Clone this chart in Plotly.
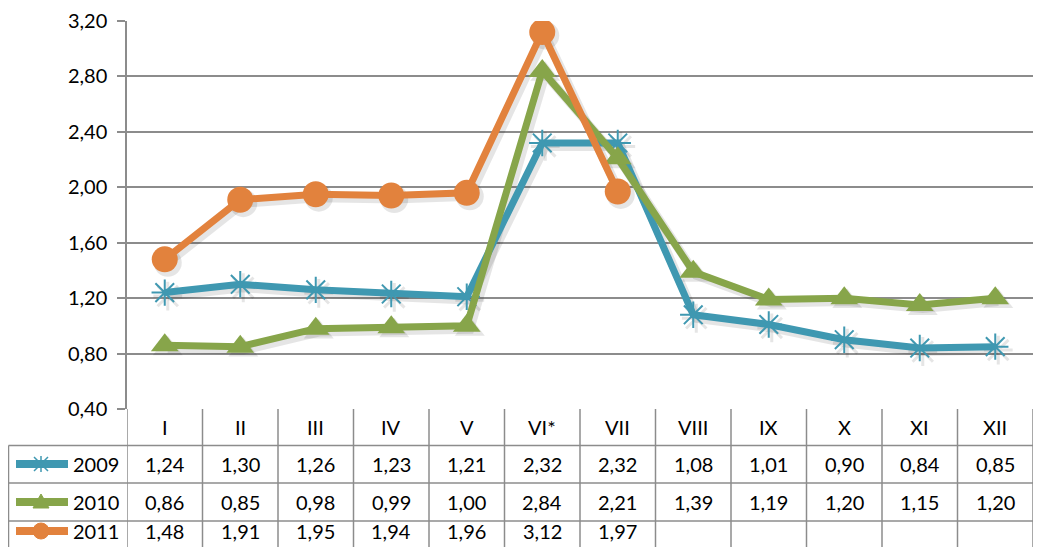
import plotly.graph_objects as go

months = ["I", "II", "III", "IV", "V", "VI*", "VII", "VIII", "IX", "X", "XI", "XII"]
years = ["2009", "2010", "2011"]
v2009 = [1.24, 1.30, 1.26, 1.23, 1.21, 2.32, 2.32, 1.08, 1.01, 0.90, 0.84, 0.85]
v2010 = [0.86, 0.85, 0.98, 0.99, 1.00, 2.84, 2.21, 1.39, 1.19, 1.20, 1.15, 1.20]
v2011 = [1.48, 1.91, 1.95, 1.94, 1.96, 3.12, 1.97, None, None, None, None, None]
yticks = [0.40, 0.80, 1.20, 1.60, 2.00, 2.40, 2.80, 3.20]

series = [v2009, v2010, v2011]
colors = ["#3F98B1", "#87A54A", "#E2823D"]
symbols = ["asterisk-open", "triangle-up", "circle"]
msizes = [22, 24, 26]

# page has an 8px body margin, so the figure is a bit smaller than the window
W, H = 1025, 539
L, R, T, B = 119, 0, 13, 138
ph = H - T - B
pw = W - L - R
FONT = "Lato, Calibri, Arial, sans-serif"
FS = 20
GRID = "#8C8C8C"

fig = go.Figure()
xs = list(range(len(months)))

# soft shadows
for vals, c, s, ms in zip(series, colors, symbols, msizes):
    fig.add_trace(go.Scatter(
        x=[x + 0.04 for x in xs], y=[None if v is None else v - 0.025 for v in vals],
        mode="lines+markers", line=dict(color="rgba(0,0,0,0.10)", width=9),
        marker=dict(symbol=s, size=ms + 2, color="rgba(0,0,0,0.10)",
                    line=dict(width=3 if s == "asterisk-open" else 0, color="rgba(0,0,0,0.10)")),
        hoverinfo="skip", showlegend=False))

for vals, c, s, ms, yr in zip(series, colors, symbols, msizes, years):
    fig.add_trace(go.Scatter(
        x=xs, y=vals, mode="lines+markers", name=yr,
        line=dict(color=c, width=7),
        marker=dict(symbol=s, size=ms, color=c,
                    line=dict(width=2 if s == "asterisk-open" else 0, color=c)),
        showlegend=False))

row_edges_px = [0, 36.5, 74, 112, 150]  # below the x axis line
row_y = [-e / ph for e in row_edges_px]
row_center_px = [55, 93, 122]
left_x = -(L - 0.5) / pw
n = len(months)

shapes = []
for k in range(1, 4):
    shapes.append(dict(type="line", xref="paper", yref="paper",
                       x0=left_x, x1=1.0, y0=row_y[k], y1=row_y[k],
                       line=dict(color=GRID, width=1.5)))
for i in range(n + 1):
    shapes.append(dict(type="line", xref="x", yref="paper",
                       x0=i - 0.5, x1=i - 0.5, y0=0, y1=row_y[4],
                       line=dict(color=GRID, width=1.5)))
shapes.append(dict(type="line", xref="paper", yref="paper",
                   x0=left_x, x1=left_x, y0=row_y[1], y1=row_y[4],
                   line=dict(color=GRID, width=1.5)))

annotations = []
hy = -17.5 / ph
for i, m in enumerate(months):
    annotations.append(dict(x=i, y=hy, xref="x", yref="paper", text=m,
                            xanchor="center", yanchor="middle",
                            showarrow=False, font=dict(size=FS, color="#000", family=FONT)))

key_x = -(L - 33) / pw
for r, (vals, yr) in enumerate(zip(series, years)):
    yc = -row_center_px[r] / ph
    for i, v in enumerate(vals):
        if v is None:
            continue
        annotations.append(dict(x=i, y=yc, xref="x", yref="paper",
                                text=f"{v:.2f}".replace(".", ","), showarrow=False,
                                xanchor="center", yanchor="middle",
                                font=dict(size=FS, color="#000", family=FONT)))
    annotations.append(dict(x=-(L - 113) / pw, y=yc, xref="paper", yref="paper",
                            xanchor="right", yanchor="middle", text=yr, showarrow=False,
                            font=dict(size=FS, color="#000", family=FONT)))
    # legend key line
    shapes.append(dict(type="line", xref="paper", yref="paper",
                       x0=-(L - 8) / pw, x1=-(L - 60) / pw, y0=yc, y1=yc,
                       line=dict(color=colors[r], width=8)))
    c = colors[r]
    common = dict(xref="paper", yref="paper", xsizemode="pixel", ysizemode="pixel",
                  xanchor=key_x, yanchor=yc)
    if r == 0:
        shapes.append(dict(type="path", path="M0,-8V8M-7,-7L7,7M-7,7L7,-7",
                           line=dict(color=c, width=1.5), **common))
    elif r == 1:
        shapes.append(dict(type="path", path="M-8,-6L8,-6L0,8Z",
                           fillcolor=c, line=dict(color=c, width=1), **common))
    else:
        shapes.append(dict(type="circle", x0=-8, x1=8, y0=-8, y1=8,
                           fillcolor=c, line=dict(color=c, width=1), **common))

fig.update_layout(
    width=W, height=H,
    margin=dict(l=L, r=R, t=T, b=B),
    paper_bgcolor="white", plot_bgcolor="white",
    separators=", ",
    font=dict(family=FONT, size=FS, color="#000"),
    xaxis=dict(range=[-0.5, n - 0.5], showticklabels=False, showgrid=False,
               zeroline=False, showline=False, fixedrange=True),
    yaxis=dict(range=[0.40, 3.20], tickvals=yticks, tickformat=".2f",
               showgrid=True, gridcolor=GRID, gridwidth=1.5,
               showline=True, linecolor=GRID, linewidth=1.5,
               ticks="outside", ticklen=8, tickcolor=GRID, tickwidth=1.5,
               ticklabelstandoff=6, zeroline=False, fixedrange=True,
               tickfont=dict(size=FS, family=FONT, color="#000")),
    shapes=shapes, annotations=annotations,
    showlegend=False,
)

fig.write_html("out.html")
